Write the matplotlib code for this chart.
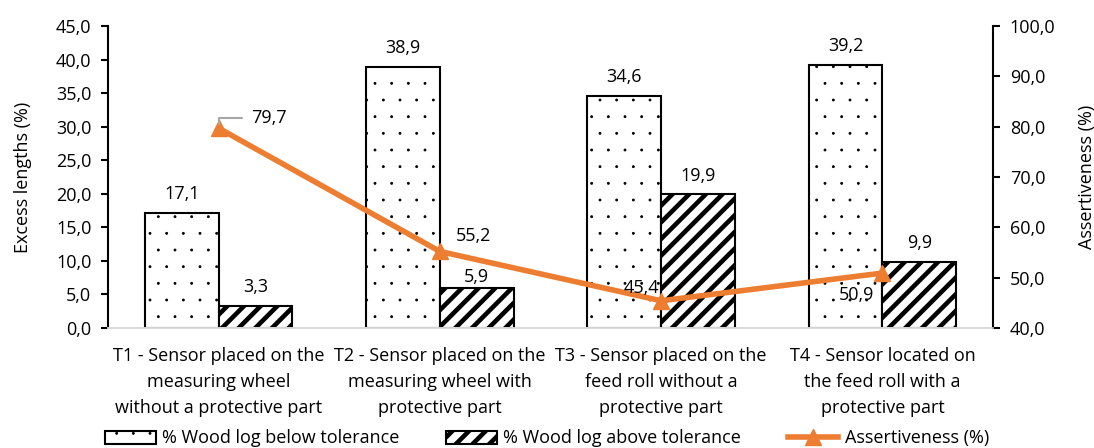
import numpy as np
import matplotlib
matplotlib.use("Agg")
import matplotlib.pyplot as plt
import matplotlib.hatch as mhatch

plt.rcParams['font.family'] = ['Open Sans', 'DejaVu Sans']
# smaller dots for the '.' hatch
mhatch.SmallFilledCircles.size = 0.06

# data
categories = ["T1 - Sensor placed on the\nmeasuring wheel\nwithout a protective part",
              "T2 - Sensor placed on the\nmeasuring wheel with\nprotective part",
              "T3 - Sensor placed on the\nfeed roll without a\nprotective part",
              "T4 - Sensor located on\nthe feed roll with a\nprotective part"]
below_tol = [17.1, 38.9, 34.6, 39.2]
above_tol = [3.3, 5.9, 19.9, 9.9]
assertiveness = [79.7, 55.2, 45.4, 50.9]

FS = 13


def fmt(v):
    return "{:.1f}".format(v).replace(".", ",")


def hatch_lw(patches, lw):
    for p in patches:
        if hasattr(p, 'set_hatch_linewidth'):
            p.set_hatch_linewidth(lw)


def main():
    fig = plt.figure(figsize=(10.94, 4.48), dpi=100)
    ax = fig.add_axes([0.0987, 0.268, 0.809, 0.674])
    ax2 = ax.twinx()
    ax.set_zorder(1)
    ax2.set_zorder(2)
    ax.patch.set_visible(False)

    x = np.arange(len(categories))
    w = 1 / 3.

    b1 = ax.bar(x - w / 2, below_tol, w, facecolor='white', edgecolor='black',
                linewidth=1.5, hatch='.', label='% Wood log below tolerance')
    hatch_lw(b1, 0.6)
    b2 = ax.bar(x + w / 2, above_tol, w, facecolor='white', edgecolor='black',
                linewidth=1.5, hatch='//', label='% Wood log above tolerance')
    hatch_lw(b2, 3.3)

    # bar value labels (5,9 sits a bit lower in the reference)
    for bars, vals in ((b1, below_tol), (b2, above_tol)):
        for r, v in zip(bars, vals):
            dy = 2 if v == 5.9 else 7
            ax.annotate(fmt(v), (r.get_x() + r.get_width() / 2, v),
                        xytext=(0, dy), textcoords='offset points',
                        ha='center', va='bottom', fontsize=FS)

    ln, = ax2.plot(x, assertiveness, color='#ED7D31', lw=4, marker='^',
                   markersize=11, label='Assertiveness (%)')
    # label offsets in points (text centre relative to the marker)
    offsets = [(36, 7), (24, 11), (-14, 9), (-19, -16)]
    for xi, v, off in zip(x, assertiveness, offsets):
        ax2.annotate(fmt(v), (xi, v), xytext=off, textcoords='offset points',
                     ha='center', va='center', fontsize=FS)
    # leader line for first label
    ax2.annotate('', (x[0], assertiveness[0]), xytext=(17, 7),
                 textcoords='offset points',
                 arrowprops=dict(arrowstyle='-', color='#A6A6A6', lw=1.5,
                                 shrinkA=0, shrinkB=3,
                                 connectionstyle='angle,angleA=0,angleB=90,rad=0'))

    ax.set_xlim(-0.5, 3.5)
    ax.set_ylim(0, 45)
    ax.set_yticks(np.arange(0, 46, 5))
    ax.set_yticklabels([fmt(v) for v in np.arange(0, 46, 5)])
    ax2.set_ylim(40, 100)
    ax2.set_yticks(np.arange(40, 101, 10))
    ax2.set_yticklabels([fmt(v) for v in np.arange(40, 101, 10)])

    ax.set_xticks(x)
    ax.set_xticklabels(categories, fontsize=FS, linespacing=1.55)
    ax.tick_params(axis='x', length=0, pad=14)
    ax.tick_params(axis='y', labelsize=FS, width=1.5, length=5, pad=7)
    ax2.tick_params(axis='y', labelsize=FS, width=1.5, length=5, pad=7)
    ax.set_ylabel('Excess lengths (%)', fontsize=FS, labelpad=17)
    ax2.set_ylabel('Assertiveness (%)', fontsize=FS, labelpad=16)

    for a in (ax, ax2):
        a.spines['top'].set_visible(False)
        a.spines['bottom'].set_color('#D9D9D9')
        a.spines['bottom'].set_linewidth(1.2)
    ax.spines['left'].set_linewidth(1.5)
    ax2.spines['right'].set_linewidth(1.5)
    ax2.spines['left'].set_visible(False)
    ax.spines['right'].set_visible(False)

    leg = fig.legend([b1, b2, ln], [b1.get_label(), b2.get_label(), ln.get_label()],
                     loc='lower center', bbox_to_anchor=(0.5, -0.035), ncol=3,
                     frameon=False, fontsize=FS, handlelength=2.8, handleheight=0.75,
                     columnspacing=2.6, handletextpad=0.35)
    lp = leg.get_patches()
    hatch_lw(lp[:1], 0.6)
    hatch_lw(lp[1:2], 3.3)

    fig.savefig('out.png', dpi=100)


if __name__ == "__main__":
    main()
